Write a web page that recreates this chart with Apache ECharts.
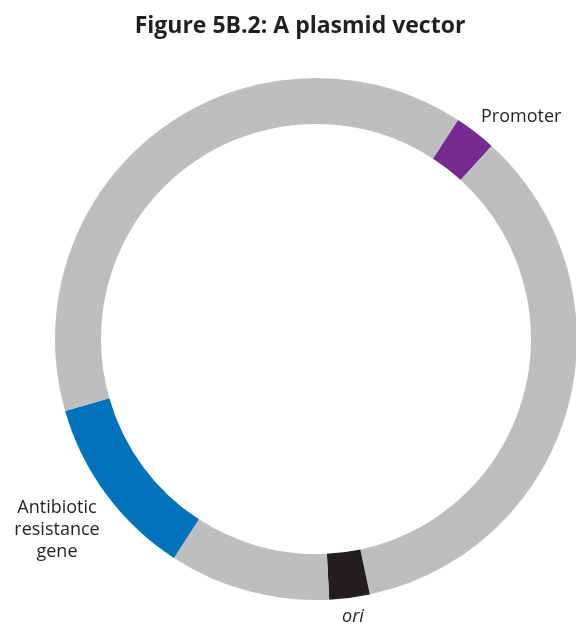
<!DOCTYPE html>
<html>
<head>
<meta charset="utf-8">
<script src="https://cdn.jsdelivr.net/npm/echarts@6/dist/echarts.min.js"></script>
<style>
html,body{margin:0;padding:0;background:#fff;}
#chart{width:576px;height:626px;}
</style>
</head>
<body>
<div id="chart"></div>
<script>
// Segments of the plasmid ring, clockwise from 12 o'clock, sizes in degrees
const segmentNames = ['backbone 1', 'Promoter', 'backbone 2', 'ori', 'backbone 3', 'Antibiotic resistance gene', 'backbone 4'];
const segmentSizes = [33, 9.3, 125.8, 9, 35.9, 41, 106];
const segmentColors = ['#bcbec0', '#762b90', '#bcbec0', '#231f20', '#bcbec0', '#0072bc', '#bcbec0'];
const titleText = 'Figure 5B.2: A plasmid vector';
const labelPromoter = 'Promoter';
const labelOri = 'ori';
const labelResistance = ['Antibiotic', 'resistance', 'gene'];

const chart = echarts.init(document.getElementById('chart'), null, {renderer: 'canvas'});
const font = '"Open Sans", "Noto Sans", sans-serif';
chart.setOption({
  animation: false,
  title: {
    text: titleText,
    left: 295, top: 10, textAlign: 'center',
    textStyle: {fontFamily: font, fontWeight: 'bold', fontSize: 23, color: '#231f20'}
  },
  series: [{
    type: 'pie',
    center: [316, 339],
    radius: [215, 261],
    startAngle: 90,
    clockwise: true,
    silent: true,
    label: {show: false},
    labelLine: {show: false},
    itemStyle: {borderWidth: 0},
    data: segmentNames.map((n, i) => ({name: n, value: segmentSizes[i], itemStyle: {color: segmentColors[i]}}))
  }],
  graphic: [
    {type: 'text', x: 481, y: 117, style: {text: labelPromoter, font: '18px ' + font, fill: '#231f20', align: 'left', verticalAlign: 'middle'}},
    {type: 'text', x: 353, y: 617, style: {text: labelOri, font: 'italic 18px ' + font, fill: '#231f20', align: 'center', verticalAlign: 'middle'}},
    {type: 'text', x: 57, y: 530, style: {text: labelResistance.join('\n'), font: '18px ' + font, fill: '#231f20', align: 'center', verticalAlign: 'middle', lineHeight: 22}}
  ]
});
</script>
</body>
</html>
